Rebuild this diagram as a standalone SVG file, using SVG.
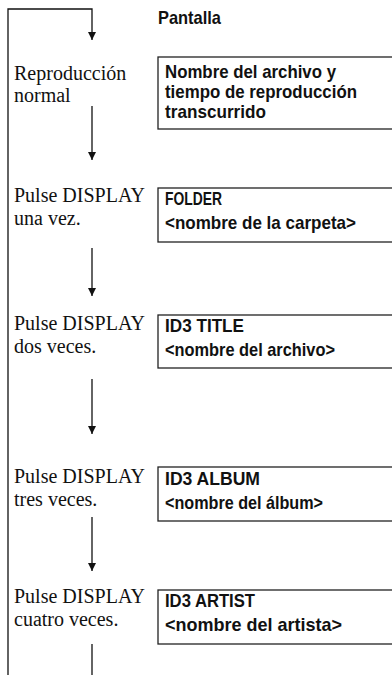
<svg xmlns="http://www.w3.org/2000/svg" width="392" height="675" viewBox="0 0 392 675">
<defs>
<marker id="ah" markerWidth="9" markerHeight="9" refX="8" refY="4" orient="auto" markerUnits="userSpaceOnUse">
<path d="M0,0 L8,4 L0,8 Z" fill="#111"/>
</marker>
</defs>
<style>
.step{font-family:"Liberation Serif","Times New Roman",serif;font-size:20px;fill:#111}
.disp{font-family:"Liberation Sans",Arial,sans-serif;font-size:19px;font-weight:bold;fill:#111}
.box{fill:#fff;stroke:#222;stroke-width:1.3}
.ln{fill:none;stroke:#111;stroke-width:1.3}
</style>
<rect width="392" height="675" fill="#fff"/>
<g id="connectors">
<path class="ln" d="M8,675 L8,9 L92,9 L92,40" marker-end="url(#ah)"/>
<line class="ln" x1="92" y1="106" x2="92" y2="160" marker-end="url(#ah)"/>
<line class="ln" x1="92" y1="248" x2="92" y2="296" marker-end="url(#ah)"/>
<line class="ln" x1="92" y1="379" x2="92" y2="434" marker-end="url(#ah)"/>
<line class="ln" x1="92" y1="517" x2="92" y2="571" marker-end="url(#ah)"/>
<line class="ln" x1="92" y1="644" x2="92" y2="675"/>
</g>
<g id="header">
<text class="disp" x="158" y="24" textLength="63" lengthAdjust="spacingAndGlyphs">Pantalla</text>
</g>
<g id="step0">
<text class="step" x="14" y="80">Reproducción</text>
<text class="step" x="14" y="102">normal</text>
<rect class="box" x="158" y="57" width="250" height="72"/>
<text class="disp" x="165" y="78" textLength="171" lengthAdjust="spacingAndGlyphs">Nombre del archivo y</text>
<text class="disp" x="165" y="98" textLength="192" lengthAdjust="spacingAndGlyphs">tiempo de reproducción</text>
<text class="disp" x="165" y="118" textLength="101" lengthAdjust="spacingAndGlyphs">transcurrido</text>
</g>
<g id="step1">
<text class="step" x="14" y="202">Pulse DISPLAY</text>
<text class="step" x="14" y="225">una vez.</text>
<rect class="box" x="158" y="188" width="250" height="54"/>
<text class="disp" x="165" y="205" textLength="57" lengthAdjust="spacingAndGlyphs">FOLDER</text>
<text class="disp" x="165" y="229" textLength="191" lengthAdjust="spacingAndGlyphs">&lt;nombre de la carpeta&gt;</text>
</g>
<g id="step2">
<text class="step" x="14" y="330">Pulse DISPLAY</text>
<text class="step" x="14" y="353">dos veces.</text>
<rect class="box" x="158" y="315" width="250" height="53"/>
<text class="disp" x="165" y="332" textLength="79" lengthAdjust="spacingAndGlyphs">ID3 TITLE</text>
<text class="disp" x="165" y="356" textLength="170" lengthAdjust="spacingAndGlyphs">&lt;nombre del archivo&gt;</text>
</g>
<g id="step3">
<text class="step" x="14" y="483">Pulse DISPLAY</text>
<text class="step" x="14" y="506">tres veces.</text>
<rect class="box" x="158" y="467" width="250" height="54"/>
<text class="disp" x="165" y="485" textLength="95" lengthAdjust="spacingAndGlyphs">ID3 ALBUM</text>
<text class="disp" x="165" y="509" textLength="158" lengthAdjust="spacingAndGlyphs">&lt;nombre del álbum&gt;</text>
</g>
<g id="step4">
<text class="step" x="14" y="603">Pulse DISPLAY</text>
<text class="step" x="14" y="626">cuatro veces.</text>
<rect class="box" x="158" y="590" width="250" height="54"/>
<text class="disp" x="165" y="607" textLength="90" lengthAdjust="spacingAndGlyphs">ID3 ARTIST</text>
<text class="disp" x="165" y="631" textLength="177" lengthAdjust="spacingAndGlyphs">&lt;nombre del artista&gt;</text>
</g>
</svg>
